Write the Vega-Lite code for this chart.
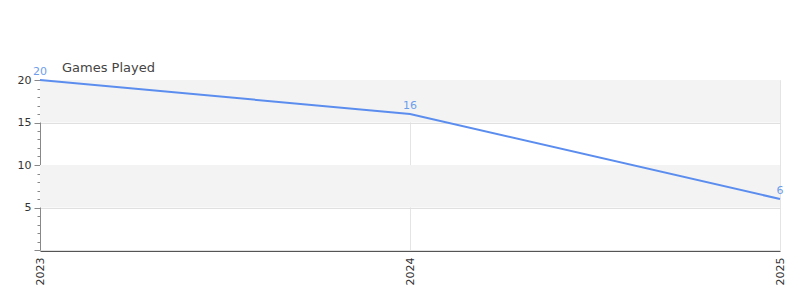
{
  "$schema": "https://vega.github.io/schema/vega-lite/v6.json",
  "width": 740,
  "height": 170,
  "autosize": "none",
  "padding": {"left": 40, "top": 80, "right": 20, "bottom": 50},
  "background": "white",
  "config": {
    "font": "DejaVu Sans",
    "view": {"stroke": null}
  },
  "title": {
    "text": "Games Played",
    "anchor": "start",
    "dx": 45,
    "dy": 17,
    "offset": 8,
    "fontSize": 13,
    "fontWeight": "normal",
    "color": "#444444",
    "font": "DejaVu Sans"
  },
  "datasets": {
    "games": [
      {"year": "2023", "games": 20},
      {"year": "2024", "games": 16},
      {"year": "2025", "games": 6}
    ],
    "bands": [
      {"from": 15, "to": 20},
      {"from": 5, "to": 10}
    ]
  },
  "resolve": {"axis": {"y": "independent"}},
  "layer": [
    {
      "data": {"name": "bands"},
      "mark": {"type": "rect", "color": "#f3f3f3"},
      "encoding": {
        "y": {"field": "from", "type": "quantitative", "scale": {"domain": [0, 20], "nice": false}, "axis": null},
        "y2": {"field": "to"}
      }
    },
    {
      "data": {"name": "games"},
      "mark": {"type": "line", "color": "#5b8def", "strokeWidth": 2},
      "encoding": {
        "x": {
          "field": "year", "type": "ordinal",
          "scale": {"type": "point", "padding": 0},
          "axis": {
            "title": null, "labelAngle": -90, "labelFontSize": 11, "labelColor": "#333333",
            "grid": true, "gridColor": "#e4e4e4", "domainColor": "#555555", "domainWidth": 1,
            "ticks": false, "labelPadding": 6, "offset": 1
          }
        },
        "y": {
          "field": "games", "type": "quantitative",
          "scale": {"domain": [0, 20], "nice": false},
          "axis": {
            "orient": "left",
            "title": null, "values": [0, 5, 10, 15, 20],
            "labelExpr": "datum.value == 0 ? '' : datum.label",
            "labelFontSize": 11, "labelColor": "#333333",
            "grid": true, "gridColor": "#e0e0e0",
            "domainColor": "#888888", "tickColor": "#888888", "tickSize": 6, "labelPadding": 3
          }
        }
      }
    },
    {
      "data": {"name": "games"},
      "mark": {"type": "text", "color": "#6d9eeb", "fontSize": 11, "dy": -8},
      "encoding": {
        "x": {"field": "year", "type": "ordinal"},
        "y": {"field": "games", "type": "quantitative", "axis": null},
        "text": {"field": "games", "type": "quantitative"}
      }
    },
    {
      "mark": {"type": "rule", "color": "#cc0000", "strokeWidth": 1},
      "encoding": {"y": {"datum": 0, "type": "quantitative", "axis": null}}
    },
    {
      "data": {"values": [{"v": 1}, {"v": 2}, {"v": 3}, {"v": 4}, {"v": 6}, {"v": 7}, {"v": 8}, {"v": 9}, {"v": 11}, {"v": 12}, {"v": 13}, {"v": 14}, {"v": 16}, {"v": 17}, {"v": 18}, {"v": 19}]},
      "mark": {"type": "tick", "opacity": 0},
      "encoding": {
        "y": {
          "field": "v", "type": "quantitative",
          "axis": {
            "orient": "left",
            "values": [1, 2, 3, 4, 6, 7, 8, 9, 11, 12, 13, 14, 16, 17, 18, 19],
            "labels": false, "domain": false, "grid": false, "title": null,
            "tickSize": 3, "tickColor": "#888888"
          }
        }
      }
    }
  ]
}
